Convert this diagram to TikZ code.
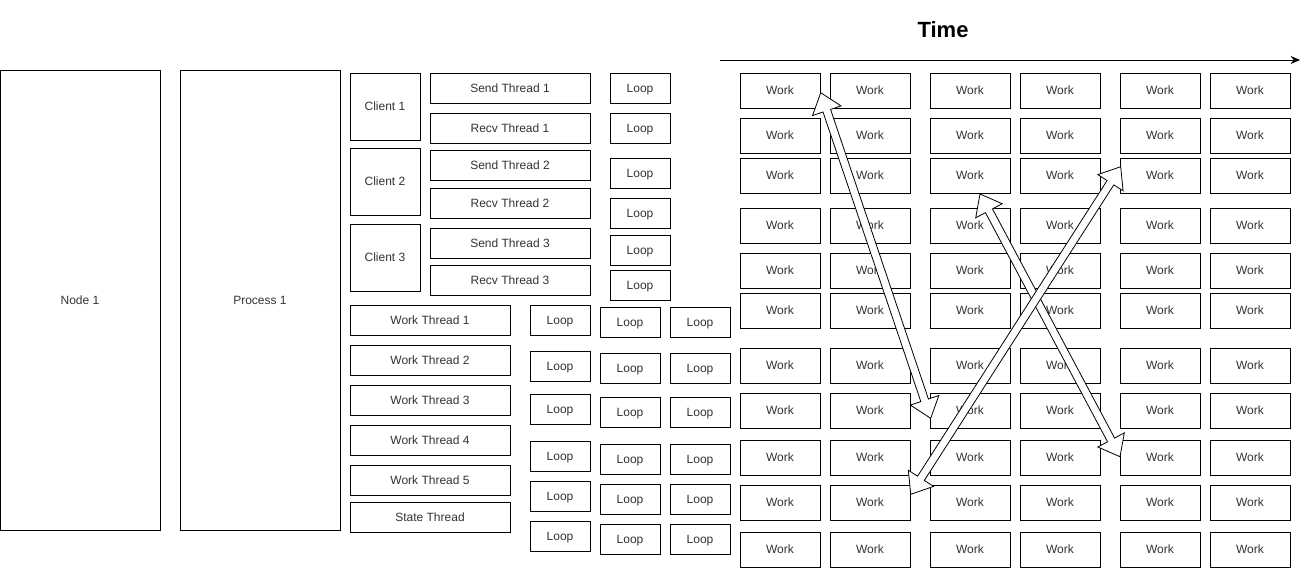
\documentclass[tikz,border=0pt]{standalone}
\usepackage{fontspec}
\setmainfont{Liberation Sans}
\usetikzlibrary{calc,arrows.meta}
\tikzset{
  box/.style={draw=black, line width=0.75pt, fill=white, inner sep=0pt, outer sep=0pt,
    font=\fontsize{9}{10}\selectfont, text=black!80, text height=7pt, text depth=0.6pt},
  flexbody/.style={draw=black, line width=0.6pt, fill=white, line join=miter},
  timeline/.style={draw=black, line width=0.75pt, -{Stealth[length=7pt,width=6pt]}},
}
\newcommand{\bx}[6]{\node[box, minimum width={(#4-#2)*0.75pt}, minimum height={(#5-#3)*0.75pt}] (#1) at ({(#2+#4)/2},{(#3+#5)/2}) {#6};}
\newcommand{\flexarrow}[2]{%
  \coordinate (fa1) at ($(#1)!14.25pt!(#2)$);
  \coordinate (fa2) at ($(#2)!14.25pt!(#1)$);
  \draw[flexbody] (#1) -- ($(fa1)!11.25pt!90:(#2)$) -- ($(fa1)!3pt!90:(#2)$)
    -- ($(fa2)!3pt!-90:(#1)$) -- ($(fa2)!11.25pt!-90:(#1)$) -- (#2)
    -- ($(fa2)!11.25pt!90:(#1)$) -- ($(fa2)!3pt!90:(#1)$)
    -- ($(fa1)!3pt!-90:(#2)$) -- ($(fa1)!11.25pt!-90:(#2)$) -- cycle;
}
\begin{document}
\begin{tikzpicture}[x=0.75pt,y=-0.75pt]
\useasboundingbox (0,0) rectangle (1309,568);
% left column
\bx{node1}{0}{70}{160}{530}{Node 1}
\bx{proc1}{180}{70}{340}{530}{Process 1}
% clients
\bx{c1}{350}{73}{420}{140}{Client 1}
\bx{c2}{350}{148}{420}{215}{Client 2}
\bx{c3}{350}{224}{420}{291}{Client 3}
% send / recv threads
\bx{st1}{430}{73}{590}{103}{Send Thread 1}
\bx{rt1}{430}{113}{590}{143}{Recv Thread 1}
\bx{st2}{430}{150}{590}{180}{Send Thread 2}
\bx{rt2}{430}{188}{590}{218}{Recv Thread 2}
\bx{st3}{430}{228}{590}{258}{Send Thread 3}
\bx{rt3}{430}{265}{590}{295}{Recv Thread 3}
% loops for send / recv
\bx{ls1}{610}{73}{670}{103}{Loop}
\bx{ls2}{610}{113}{670}{143}{Loop}
\bx{ls3}{610}{158}{670}{188}{Loop}
\bx{ls4}{610}{198}{670}{228}{Loop}
\bx{ls5}{610}{235}{670}{265}{Loop}
\bx{ls6}{610}{270}{670}{300}{Loop}
% work threads
\bx{wt1}{350}{305}{510}{335}{Work Thread 1}
\bx{wt2}{350}{345}{510}{375}{Work Thread 2}
\bx{wt3}{350}{385}{510}{415}{Work Thread 3}
\bx{wt4}{350}{425}{510}{455}{Work Thread 4}
\bx{wt5}{350}{465}{510}{495}{Work Thread 5}
\bx{stt}{350}{502}{510}{532}{State Thread}
% loops column A
\foreach \r [count=\j] in {305,351,394,441,481,521} {
  \bx{la\j}{530}{\r}{590}{\r+30}{Loop}
}
% loops columns B and C
\foreach \r [count=\j] in {307,353,397,444,484,524} {
  \bx{lb\j}{600}{\r}{660}{\r+30}{Loop}
  \bx{lc\j}{670}{\r}{730}{\r+30}{Loop}
}
% work grid
\foreach \c [count=\i] in {740,830,930,1020,1120,1210} {
  \foreach \r [count=\j] in {73,118,158,208,253,293,348,393,440,485,532} {
    \bx{w\j-\i}{\c}{\r}{\c+80}{\r+35}{Work}
  }
}
% time axis
\node[font=\fontsize{16.5}{18}\selectfont\bfseries, text=black, inner sep=0pt] (time) at (943,30) {Time};
\coordinate (t0) at (720,60);
\coordinate (t1) at (1300,60);
\draw[timeline] (t0) -- (t1);
% hollow double arrows
\coordinate (a1) at (820.7,92.7);
\coordinate (a2) at (930.7,418.3);
\coordinate (b1) at (980,194);
\coordinate (b2) at (1120,456.7);
\coordinate (c1e) at (1120.7,166.7);
\coordinate (c2e) at (910.7,494.3);
\flexarrow{a1}{a2}
\flexarrow{b1}{b2}
\flexarrow{c1e}{c2e}
\end{tikzpicture}
\end{document}
